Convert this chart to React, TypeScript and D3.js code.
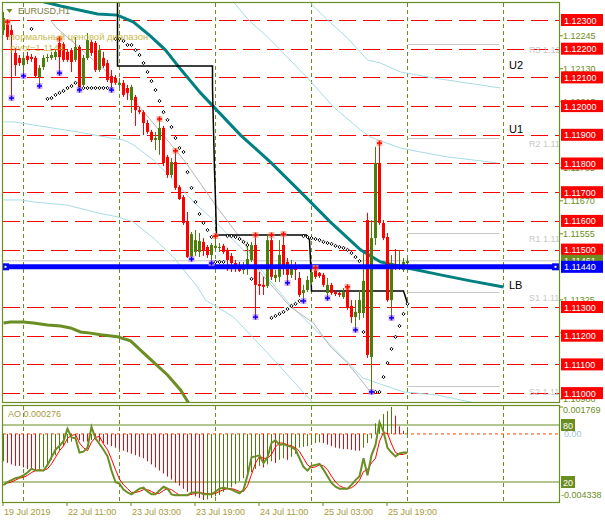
import React from "react";
import * as d3 from "d3";

// ---------- DATA ----------
// H1 candles, bar 0 = 19 Jul 2019 19:00 ; [open, high, low, close]
const candles: [number, number, number, number][] = [
  [1.12265,1.12328,1.12248,1.12307],[1.12286,1.12293,1.12230,1.12241],[1.12265,1.12283,1.12028,1.12248],
  [1.12185,1.12202,1.12105,1.12143],[1.12168,1.12178,1.12140,1.12150],[1.12143,1.12178,1.12105,1.12168],
  [1.12175,1.12189,1.12147,1.12161],[1.12171,1.12182,1.12154,1.12164],[1.12168,1.12175,1.12098,1.12105],
  [1.12101,1.12143,1.12070,1.12133],[1.12136,1.12178,1.12126,1.12168],[1.12168,1.12182,1.12154,1.12171],
  [1.12168,1.12189,1.12161,1.12178],[1.12171,1.12195,1.12161,1.12189],[1.12220,1.12234,1.12115,1.12171],
  [1.12216,1.12223,1.12154,1.12161],[1.12189,1.12195,1.12154,1.12161],[1.12195,1.12202,1.12119,1.12154],
  [1.12161,1.12241,1.12154,1.12206],[1.12206,1.12213,1.12056,1.12063],[1.12074,1.12178,1.12070,1.12168],
  [1.12168,1.12255,1.12161,1.12230],[1.12223,1.12230,1.12175,1.12185],[1.12220,1.12227,1.12119,1.12126],
  [1.12126,1.12213,1.12119,1.12195],[1.12168,1.12189,1.12133,1.12140],[1.12150,1.12161,1.12084,1.12091],
  [1.12105,1.12126,1.12056,1.12081],[1.12098,1.12108,1.12074,1.12081],[1.12074,1.12098,1.12063,1.12081],
  [1.12081,1.12091,1.12032,1.12039],[1.12063,1.12074,1.12021,1.12046],[1.12021,1.12074,1.11976,1.12067],
  [1.12032,1.12039,1.11931,1.11986],[1.11986,1.11997,1.11972,1.11979],[1.11979,1.11986,1.11899,1.11941],
  [1.11941,1.11952,1.11903,1.11910],[1.11910,1.11917,1.11875,1.11882],[1.11882,1.11910,1.11847,1.11889],
  [1.11882,1.11955,1.11830,1.11924],[1.11924,1.11931,1.11791,1.11802],[1.11823,1.11830,1.11750,1.11760],
  [1.11760,1.11819,1.11750,1.11805],[1.11805,1.11844,1.11708,1.11715],[1.11718,1.11725,1.11673,1.11676],
  [1.11683,1.11690,1.11586,1.11593],[1.11600,1.11631,1.11471,1.11474],[1.11474,1.11561,1.11467,1.11554],
  [1.11492,1.11568,1.11478,1.11533],[1.11492,1.11558,1.11474,1.11530],[1.11527,1.11540,1.11478,1.11499],
  [1.11509,1.11516,1.11471,1.11481],[1.11481,1.11523,1.11453,1.11516],[1.11506,1.11547,1.11499,1.11513],
  [1.11506,1.11523,1.11492,1.11509],[1.11513,1.11520,1.11485,1.11492],[1.11499,1.11506,1.11426,1.11464],
  [1.11478,1.11488,1.11422,1.11453],[1.11453,1.11464,1.11422,1.11439],[1.11446,1.11457,1.11422,1.11426],
  [1.11429,1.11457,1.11415,1.11446],[1.11439,1.11527,1.11412,1.11467],[1.11464,1.11527,1.11457,1.11516],
  [1.11516,1.11551,1.11265,1.11377],[1.11380,1.11422,1.11342,1.11373],[1.11377,1.11405,1.11342,1.11370],
  [1.11373,1.11551,1.11366,1.11533],[1.11533,1.11551,1.11394,1.11405],[1.11401,1.11429,1.11387,1.11412],
  [1.11405,1.11533,1.11387,1.11481],[1.11516,1.11554,1.11412,1.11436],[1.11457,1.11471,1.11384,1.11412],
  [1.11412,1.11464,1.11401,1.11446],[1.11443,1.11457,1.11394,1.11429],[1.11401,1.11422,1.11335,1.11342],
  [1.11349,1.11377,1.11321,1.11359],[1.11359,1.11408,1.11352,1.11394],[1.11387,1.11436,1.11377,1.11422],
  [1.11429,1.11436,1.11398,1.11405],[1.11419,1.11422,1.11401,1.11408],[1.11412,1.11419,1.11370,1.11377],
  [1.11349,1.11401,1.11331,1.11377],[1.11377,1.11384,1.11342,1.11349],[1.11352,1.11359,1.11338,1.11345],
  [1.11349,1.11352,1.11335,1.11342],[1.11335,1.11366,1.11328,1.11352],[1.11366,1.11370,1.11290,1.11300],
  [1.11304,1.11324,1.11244,1.11265],[1.11265,1.11324,1.11220,1.11283],[1.11279,1.11359,1.11255,1.11324],
  [1.11279,1.11488,1.11262,1.11391],[1.11603,1.11628,1.11122,1.11133],[1.11126,1.11603,1.11004,1.11540],
  [1.11540,1.11858,1.11516,1.11802],[1.11802,1.11871,1.11586,1.11593],[1.11593,1.11603,1.11533,1.11540],
  [1.11544,1.11558,1.11318,1.11324],[1.11324,1.11481,1.11262,1.11453],[1.11443,1.11502,1.11429,1.11436],
  [1.11436,1.11499,1.11429,1.11446],[1.11429,1.11471,1.11422,1.11457],[1.11453,1.11471,1.11450,1.11460],
];

// Parabolic SAR [bar, price]
const sarDots: [number, number][] = [
  [7,1.12269],[11,1.12025],[12,1.12028],[13,1.12039],[14,1.12046],[15,1.12053],[16,1.12063],[17,1.12070],[18,1.12081],
  [19,1.12063],[20,1.12063],[21,1.12063],[22,1.12063],[23,1.12063],[24,1.12063],[25,1.12063],[26,1.12063],[27,1.12063],
  [28,1.12234],[29,1.12234],[30,1.12227],[31,1.12213],[32,1.12213],[33,1.12195],[34,1.12178],[35,1.12150],[36,1.12119],
  [37,1.12087],[38,1.12056],[39,1.12018],[40,1.11979],[41,1.11952],[42,1.11927],[43,1.11889],[44,1.11854],[45,1.11840],
  [46,1.11770],[47,1.11715],[48,1.11666],[49,1.11624],[50,1.11593],[51,1.11568],[52,1.11544],[53,1.11457],[54,1.11457],
  [55,1.11457],[56,1.11547],[57,1.11547],[58,1.11544],[59,1.11537],[60,1.11527],[61,1.11516],[62,1.11398],[67,1.11262],
  [68,1.11269],[69,1.11276],[70,1.11283],[71,1.11293],[72,1.11304],[73,1.11311],[74,1.11321],[75,1.11547],[76,1.11544],
  [77,1.11540],[78,1.11537],[79,1.11533],[80,1.11527],[81,1.11523],[82,1.11520],[83,1.11513],[84,1.11509],[85,1.11506],
  [86,1.11499],[87,1.11488],[88,1.11474],[89,1.11460],[90,1.11213],[93,1.11004],[94,1.11004],[95,1.11056],[96,1.11105],
  [97,1.11154],[98,1.11196],[99,1.11234],[100,1.11276],[101,1.11311],
];

const fractalUpBars = [1, 14, 39, 43, 53, 63, 67, 70, 78, 86, 94];
const fractalDownBars = [2, 5, 9, 14, 19, 27, 47, 52, 63, 71, 75, 81, 88, 92, 97];

// indicator lines [bar, price]
const tealMA: [number, number][] = [
  [9.25,1.12366],[14.25,1.12349],[23.5,1.12321],[28.5,1.12317],[32.5,1.12293],[36.75,1.12244],[40.5,1.12195],
  [44.25,1.12129],[49.25,1.12046],[59.25,1.11899],[66.75,1.11805],[74.25,1.11701],[81.75,1.11596],[89.25,1.11499],
  [94.25,1.11457],[101,1.11436],[109.25,1.11412],[116.75,1.11391],[125,1.11370],
];
const oliveMA: [number, number][] = [
  [0,1.11244],[1.75,1.11248],[5,1.11248],[7.5,1.11244],[11,1.11237],[14.25,1.11234],[16.75,1.11227],[19.25,1.11213],
  [21.75,1.11209],[24.25,1.11203],[28.5,1.11196],[31.75,1.11182],[34.25,1.11150],[37.5,1.11108],[41,1.11063],
  [44.25,1.11011],[46.75,1.10955],
];
const stepLine: [number, number][] = [
  [28.5,1.12387],[28.5,1.12140],[52.25,1.12140],[52.25,1.12063],[52.5,1.11917],[52.75,1.11777],[53,1.11673],
  [53.25,1.11551],[75.75,1.11551],[76.5,1.11533],[76.75,1.11464],[77,1.11356],[100,1.11356],[100.5,1.11335],[101,1.11311],
];
const greyTrend: [number, number][] = [
  [11.75,1.12300],[13,1.12276],[28.75,1.12084],[36.75,1.11952],[45.5,1.11805],[53,1.11655],[60.5,1.11516],
  [64.25,1.11419],[71.75,1.11300],[77.5,1.11244],[81.75,1.11161],[86,1.11105],[91.75,1.11004],
];
const bandU1: [number, number][] = [
  [56.5,1.12380],[61.25,1.12300],[66,1.12241],[69.25,1.12195],[76,1.12098],[82.5,1.11997],[89.25,1.11917],
  [91.75,1.11892],[95,1.11875],[99.25,1.11854],[104.25,1.11840],[111,1.11823],[123.5,1.11802],
];
const bandU2: [number, number][] = [
  [75.5,1.12380],[76.75,1.12359],[81,1.12300],[86,1.12237],[91,1.12161],[94.25,1.12150],[99.25,1.12119],
  [107.5,1.12098],[124.25,1.12063],
];
const bandL1: [number, number][] = [
  [0,1.11945],[2.5,1.11945],[7.5,1.11934],[18.5,1.11910],[26.75,1.11889],[30,1.11882],[32.5,1.11865],[37.5,1.11812],
  [42.5,1.11743],[47.5,1.11666],[52.5,1.11603],[57.5,1.11533],[61.75,1.11474],[65,1.11419],[71.75,1.11307],
  [79.25,1.11203],[86.75,1.11098],[89.75,1.11053],[93.5,1.11035],[100,1.11004],[108.5,1.10993],[116.75,1.10969],
  [121.75,1.10955],
];
const bandL2: [number, number][] = [
  [0,1.11673],[4.25,1.11673],[7.5,1.11666],[16,1.11655],[23.5,1.11628],[28.5,1.11614],[32.5,1.11596],[37.5,1.11540],
  [42.5,1.11474],[48.5,1.11370],[50.5,1.11324],[57.5,1.11265],[66,1.11140],[76.75,1.10976],[79,1.10940],
];

const pivotNames = ["R3", "R2", "R1", "S1", "S2"];
const pivotValues = [1.12216, 1.11889, 1.11559, 1.11353, 1.11026];
const pivotPrice = 1.1144;
const bidPrice = 1.11461;
const chartLabels = ["U2", "U1", "LB"];
const chartLabelPrices = [1.12130, 1.11907, 1.11363];

const redLevels = [1.123,1.122,1.121,1.12,1.119,1.118,1.117,1.116,1.115,1.113,1.112,1.111,1.11];
const priceTicks = [1.12245,1.1213,1.12015,1.119,1.11785,1.1167,1.11555,1.1144,1.11325,1.1121,1.11095,1.1098];

const aoValues = [
  -0.0018,-0.0019,-0.0020,-0.0021,-0.0021,
  -0.0022,-0.0023,-0.0023,-0.0024,-0.0023,-0.0022,
  -0.0020,-0.0017,-0.0014,-0.0011,
  -0.0008,-0.0006,-0.0005,-0.0004,-0.0004,-0.0005,-0.0005,-0.0004,-0.0004,-0.0005,-0.0006,
  -0.0007,-0.0008,-0.0009,-0.0010,-0.0011,-0.0012,-0.0013,-0.0014,-0.0015,-0.0016,
  -0.0018,-0.0020,-0.0022,-0.0024,-0.0026,-0.0028,-0.0030,-0.0032,-0.0034,-0.0036,-0.0038,
  -0.0040,-0.0041,-0.0042,-0.004338,-0.0043,-0.0042,-0.0041,
  -0.0040,-0.0038,-0.0036,-0.0035,-0.0033,-0.0031,-0.0029,-0.0027,-0.0025,
  -0.0023,-0.0021,-0.0022,-0.0020,-0.0018,-0.0019,-0.0017,-0.0016,-0.0017,-0.0015,-0.0013,
  -0.0009,-0.00085,-0.0008,-0.0007,-0.0006,-0.00055,-0.0006,-0.0007,-0.0008,-0.0009,-0.00095,-0.0010,-0.0010,-0.00105,-0.0011,-0.0011,-0.0009,
  -0.0006,-0.0003,0.0007,0.0009,0.0013,0.0015,0.001769,0.0012,0.0005,0.0002,0.000276,
];
const stochK = [
  17,20,22,24,25,27,30,34,32,32, 32,38,46,54,58,63,76,67,66,51, 52,56,78,66,60,54,47,32,20,18,
  12,9,7,10,13,14,10,7,7,11, 15,13,7,6,6,6,6,9,9,9, 7,7,7,10,13,14,13,12,10,8,
  12,27,46,47,48,40,46,61,64,59, 60,58,57,54,45,36,32,37,38,39, 33,26,19,15,13,13,13,17,22,26,
  45,27,48,59,83,73,56,51,47,50,51,51,
];
const stochD = [
  17,19,20,22,24,25,27,30,32,33, 32,34,39,46,53,58,66,69,70,61, 56,53,62,67,68,60,54,44,33,23,
  17,13,9,9,10,12,12,10,8,8, 11,13,12,9,6,6,6,7,8,9, 8,8,7,8,10,12,13,13,12,10,
  10,16,28,40,47,45,45,49,57,61, 61,59,58,56,52,45,38,35,36,38, 37,33,26,20,16,14,13,14,17,22,
  31,33,40,45,63,72,71,60,51,49,49,51,
];

const timeLabelBars = [0, 16, 32, 48, 64, 80, 96];
const timeLabels = ["19 Jul 2019", "22 Jul 11:00", "23 Jul 03:00", "23 Jul 19:00", "24 Jul 11:00", "25 Jul 03:00", "25 Jul 19:00"];
const daySeparatorBars = [5, 29, 53, 77, 101, 125];

// ---------- STYLE ----------
const FONT = "'Liberation Sans', Arial, sans-serif";
const OLIVE = "#6b8e23";
const BULL = "#4d7e0a";
const BEAR = "#ff0000";
const L = 2.5, R = 559.5, T = 2.5, MB = 402.5, AT = 405.5, AB = 502.5;

export default function App() {
  const xs = d3.scaleLinear().domain([0, 1]).range([3, 7]);
  const cx = (i: number) => xs(i) + 0.5;
  const yP = d3.scaleLinear().domain([1.11, 1.123]).range([393.1, 20]);
  const yAO = d3.scaleLinear().domain([-0.004338, 0.001769]).range([500, 407]);
  const yST = d3.scaleLinear().domain([0, 100]).range([501, 406]);
  const pline = d3.line<[number, number]>().x((d) => cx(d[0])).y((d) => yP(d[1]));
  const sline = d3.line<number>().x((_, i) => cx(i)).y((v) => yST(v));
  const fmt = d3.format(".5f");

  // olive scale labels that sit exactly beneath a boxed level are fully hidden in the chart
  const boxed = [...redLevels, pivotPrice];
  const visibleTicks = priceTicks.filter((v) => !boxed.some((b) => Math.abs(yP(b) - yP(v)) < 2));

  return (
    <svg width={605} height={523} style={{ display: "block", position: "absolute", left: 0, top: 0 }} fontFamily={FONT}>
      <defs>
        <clipPath id="mainClip"><rect x={3} y={3} width={556} height={399} /></clipPath>
        <clipPath id="aoClip"><rect x={3} y={406} width={556} height={96} /></clipPath>
      </defs>
      <rect x={0} y={0} width={605} height={523} fill="#fff" />

      <g clipPath="url(#mainClip)">
        {daySeparatorBars.map((b) => (
          <line key={"ds" + b} x1={cx(b)} x2={cx(b)} y1={3} y2={402} stroke={OLIVE} strokeWidth={1} strokeDasharray="4,3" />
        ))}
        {redLevels.map((v) => (
          <line key={"rl" + v} x1={3} x2={559} y1={Math.round(yP(v)) + 0.5} y2={Math.round(yP(v)) + 0.5} stroke="#ff0000" strokeWidth={1} strokeDasharray="17,7" />
        ))}
        <line x1={3} x2={559} y1={yP(bidPrice)} y2={yP(bidPrice)} stroke="#c0c0c0" strokeWidth={1} />
        {pivotValues.map((v, k) => (
          <g key={"pv" + k}>
            <line x1={cx(101)} x2={cx(124)} y1={Math.round(yP(v)) + 0.5} y2={Math.round(yP(v)) + 0.5} stroke="#c8c8c8" strokeWidth={1} />
            <text x={529} y={yP(v) + 9} fontSize={9} fill="#c8c8c8">{pivotNames[k] + " " + v.toFixed(5)}</text>
          </g>
        ))}
        {[bandU1, bandU2, bandL1, bandL2].map((b, k) => (
          <path key={"bd" + k} d={pline(b) || ""} fill="none" stroke="#a8dce4" strokeWidth={1} />
        ))}
        <path d={pline(greyTrend) || ""} fill="none" stroke="#b8b8b8" strokeWidth={1} />
        <path d={pline(oliveMA) || ""} fill="none" stroke={OLIVE} strokeWidth={3} />
        <path d={pline(tealMA) || ""} fill="none" stroke="#008080" strokeWidth={3} />
        <path d={pline(stepLine) || ""} fill="none" stroke="#000" strokeWidth={1.5} />

        {candles.map(([o, h, l, c], i) => {
          const col = c >= o ? BULL : BEAR;
          const top = Math.min(yP(o), yP(c));
          const hgt = Math.max(1, Math.abs(yP(o) - yP(c)));
          return (
            <g key={"c" + i}>
              <line x1={cx(i)} x2={cx(i)} y1={yP(h)} y2={yP(l)} stroke={col} strokeWidth={1} />
              <rect x={xs(i) - 1} y={top} width={3} height={hgt} fill={col} />
            </g>
          );
        })}

        <line x1={3} x2={559} y1={yP(pivotPrice)} y2={yP(pivotPrice)} stroke="#0000ff" strokeWidth={5} />
        <rect x={2} y={yP(pivotPrice) - 3.5} width={7} height={7} fill="#0000ff" />
        <rect x={4.5} y={yP(pivotPrice) - 1} width={2} height={2} fill="#fff" />
        <rect x={552} y={yP(pivotPrice) - 3.5} width={7} height={7} fill="#0000ff" />
        <rect x={554.5} y={yP(pivotPrice) - 1} width={2} height={2} fill="#fff" />

        {sarDots.map(([b, v]) => {
          const px = cx(b), py = yP(v);
          return (
            <path key={"sar" + b} d={`M${px},${py - 1.6}L${px + 1.6},${py}L${px},${py + 1.6}L${px - 1.6},${py}Z`} fill="#fff" stroke="#000" strokeWidth={1} />
          );
        })}
        {fractalUpBars.map((b) => {
          const px = cx(b), py = yP(candles[b][1]);
          return (
            <g key={"fu" + b}>
              <rect x={px - 3} y={py - 3} width={6} height={6} fill="#ffa080" opacity={0.7} />
              <line x1={px - 2.5} x2={px + 2.5} y1={py} y2={py} stroke="#ff0000" strokeWidth={1.5} />
              <line x1={px} x2={px} y1={py - 2.5} y2={py + 2.5} stroke="#ff0000" strokeWidth={1.5} />
            </g>
          );
        })}
        {fractalDownBars.map((b) => {
          const px = cx(b), py = yP(candles[b][2]);
          return (
            <g key={"fd" + b}>
              <rect x={px - 3} y={py - 3} width={6} height={6} fill="#d090ff" opacity={0.7} />
              <line x1={px - 2.5} x2={px + 2.5} y1={py} y2={py} stroke="#0000ff" strokeWidth={1.5} />
              <line x1={px} x2={px} y1={py - 2.5} y2={py + 2.5} stroke="#0000ff" strokeWidth={1.5} />
            </g>
          );
        })}
        {chartLabels.map((t, k) => (
          <text key={"cl" + t} x={509} y={yP(chartLabelPrices[k])} fontSize={11} fill="#000">{t}</text>
        ))}

        <path d="M6.5,9 L12.5,9 L9.5,13 Z" fill={OLIVE} />
        <text x={18} y={14} fontSize={9} fill="#7c7c3c">EURUSD,H1</text>
        <text x={8} y={40} fontSize={9.5} fill="#c0b030" opacity={0.85}>Нормальный ценовой диапазон</text>
        <text x={10} y={51} fontSize={9.5} fill="#c0b030" opacity={0.85}>{"pivot=" + pivotPrice.toFixed(4)}</text>
      </g>

      {/* AO + stochastic subwindow */}
      <g clipPath="url(#aoClip)">
        {daySeparatorBars.map((b) => (
          <line key={"ads" + b} x1={cx(b)} x2={cx(b)} y1={406} y2={502} stroke={OLIVE} strokeWidth={1} strokeDasharray="4,3" />
        ))}
        <line x1={3} x2={559} y1={yST(80)} y2={yST(80)} stroke={OLIVE} strokeWidth={1.2} />
        <line x1={3} x2={559} y1={yST(20)} y2={yST(20)} stroke={OLIVE} strokeWidth={1.2} />
        <line x1={3} x2={559} y1={yAO(0)} y2={yAO(0)} stroke="#ff4500" strokeWidth={1} strokeDasharray="3,3" />
        {aoValues.map((v, i) => {
          const up = i === 0 ? true : v > aoValues[i - 1];
          return (
            <line key={"ao" + i} x1={cx(i)} x2={cx(i)} y1={yAO(0)} y2={yAO(v)} stroke={up ? BULL : BEAR} strokeWidth={1} />
          );
        })}
        <path d={sline(stochD) || ""} fill="none" stroke="#ff0000" strokeWidth={1} />
        <path d={sline(stochK) || ""} fill="none" stroke={OLIVE} strokeWidth={2} />
        <text x={8} y={417} fontSize={9} fill="#a89a3c">{"AO " + aoValues[aoValues.length - 1].toFixed(6)}</text>
      </g>

      {/* frames */}
      <rect x={L} y={T} width={R - L} height={MB - T} fill="none" stroke={OLIVE} strokeWidth={1.2} />
      <rect x={L} y={AT} width={R - L} height={AB - AT} fill="none" stroke={OLIVE} strokeWidth={1.2} />

      {/* price axis */}
      {visibleTicks.map((v) => (
        <g key={"pt" + v}>
          <line x1={559} x2={563} y1={yP(v)} y2={yP(v)} stroke={OLIVE} strokeWidth={1} />
          <text x={563} y={yP(v) + 3.5} fontSize={9} fill={OLIVE}>{fmt(v)}</text>
        </g>
      ))}
      {redLevels.map((v) => (
        <g key={"rb" + v}>
          <rect x={561} y={yP(v) - 6} width={42} height={12} fill="#ff0000" />
          <text x={564} y={yP(v) + 3.5} fontSize={9} fill="#fff">{fmt(v)}</text>
        </g>
      ))}
      <rect x={561} y={yP(bidPrice) - 6} width={42} height={12} fill={OLIVE} />
      <text x={564} y={yP(bidPrice) + 3.5} fontSize={9} fill="#fff">{fmt(bidPrice)}</text>
      <rect x={561} y={yP(pivotPrice) - 6} width={42} height={12} fill="#0000ff" />
      <text x={564} y={yP(pivotPrice) + 3.5} fontSize={9} fill="#fff">{fmt(pivotPrice)}</text>

      {/* sub-window axis */}
      <line x1={559} x2={563} y1={yAO(0.001769)} y2={yAO(0.001769)} stroke={OLIVE} />
      <text x={563} y={413} fontSize={9} fill={OLIVE}>{d3.max(aoValues)!.toFixed(6)}</text>
      <rect x={561} y={yST(80) - 6} width={14} height={12} fill={OLIVE} />
      <text x={563} y={yST(80) + 3.5} fontSize={9} fill="#fff">80</text>
      <text x={564} y={yAO(0) + 3} fontSize={9} fill="#9fc4d8">0.00</text>
      <rect x={561} y={yST(20) - 6} width={14} height={12} fill={OLIVE} />
      <text x={563} y={yST(20) + 3.5} fontSize={9} fill="#fff">20</text>
      <text x={561} y={498} fontSize={9} fill={OLIVE}>{d3.min(aoValues)!.toFixed(6)}</text>

      {/* time axis */}
      {timeLabelBars.map((b, k) => (
        <g key={"tl" + b}>
          <line x1={xs(b)} x2={xs(b)} y1={502} y2={506} stroke={OLIVE} />
          <text x={xs(b) + 1} y={515} fontSize={9} fill="#a89a3c">{timeLabels[k]}</text>
        </g>
      ))}
    </svg>
  );
}
